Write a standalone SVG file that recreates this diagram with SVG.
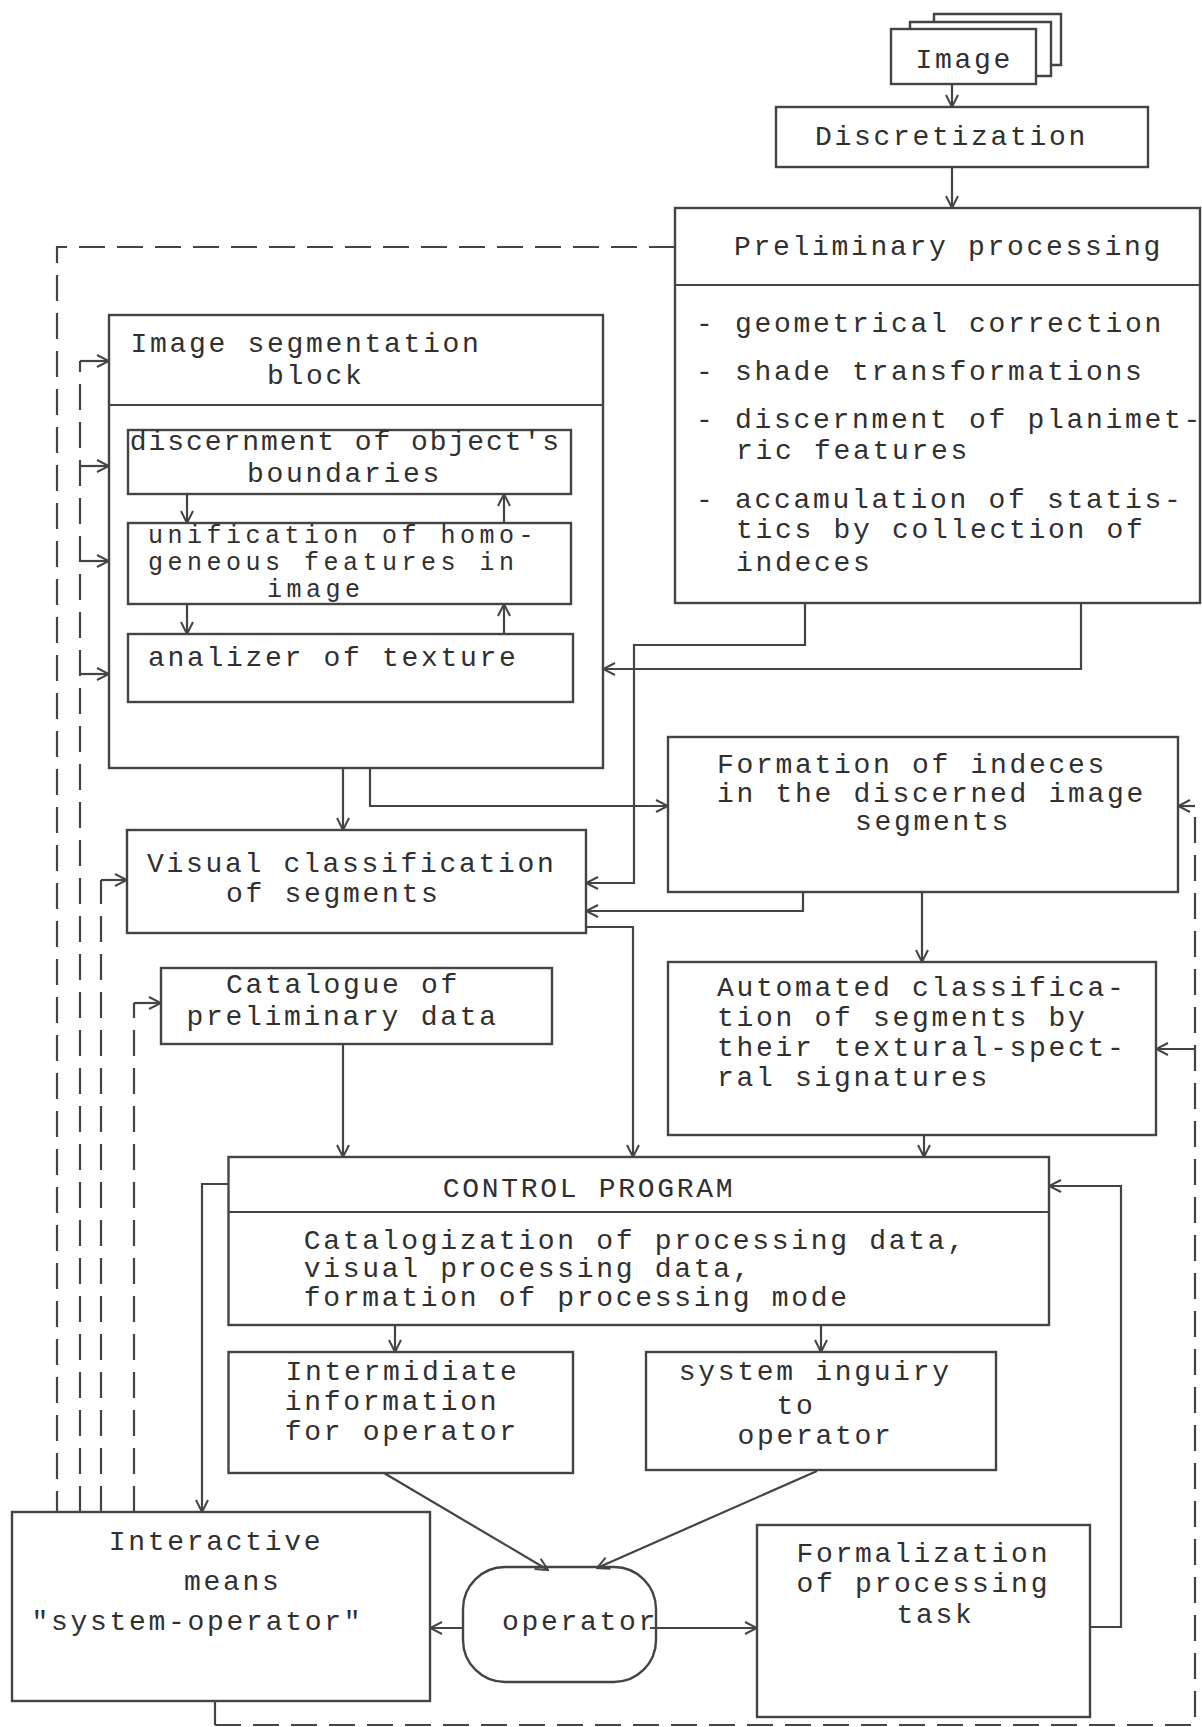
<svg xmlns="http://www.w3.org/2000/svg" width="1202" height="1727" viewBox="0 0 1202 1727">
<defs>
<style>
.box{fill:none;stroke:#444;stroke-width:2.4}
.ln{fill:none;stroke:#444;stroke-width:2.2}
.ar{fill:none;stroke:#444;stroke-width:2.2;marker-end:url(#ah)}
.dash{fill:none;stroke:#444;stroke-width:2.2;stroke-dasharray:26 12}
text{font-family:"Liberation Mono","DejaVu Sans Mono",monospace;font-size:28px;letter-spacing:2.7px;fill:#303030}
text.sm{font-size:25px;letter-spacing:4.5px}
</style>
<marker id="ah" viewBox="0 0 14 14" refX="13" refY="7" markerWidth="14" markerHeight="14" markerUnits="userSpaceOnUse" orient="auto">
<path d="M1,1 L13,7 L1,13" fill="none" stroke="#444" stroke-width="2"/>
</marker>
</defs>
<rect width="1202" height="1727" fill="#fff"/>

<g id="n-image">
<path class="box" d="M934,22 V14 H1061 V65 H1051"/>
<path class="box" d="M910,29 V22 H1051 V76 H1036"/>
<rect class="box" x="891" y="29" width="145" height="55"/>
<text x="915.6" y="68">Image</text>
</g>

<g id="n-discretization">
<rect class="box" x="776" y="107" width="372" height="60"/>
<text x="815" y="145">Discretization</text>
</g>

<g id="n-preliminary">
<rect class="box" x="675" y="208" width="525" height="395"/>
<line class="ln" x1="675" y1="285" x2="1200" y2="285"/>
<text x="734" y="255">Preliminary processing</text>
<text x="696" y="332">- geometrical correction</text>
<text x="696" y="380">- shade transformations</text>
<text x="696" y="428">- discernment of planimet-</text>
<text x="736" y="459">ric features</text>
<text x="696" y="508">- accamulation of statis-</text>
<text x="736" y="538">tics by collection of</text>
<text x="736" y="571">indeces</text>
</g>

<g id="n-segmentation">
<rect class="box" x="109" y="315" width="494" height="453"/>
<line class="ln" x1="109" y1="405" x2="603" y2="405"/>
<text x="130.5" y="352">Image segmentation</text>
<text x="267" y="384">block</text>
<g id="n-seg-boundaries">
<rect class="box" x="128" y="430" width="443" height="64"/>
<text x="129.7" y="450" textLength="432" lengthAdjust="spacing">discernment of object's</text>
<text x="247" y="482">boundaries</text>
</g>
<g id="n-seg-unification">
<rect class="box" x="128" y="523" width="443" height="81"/>
<text class="sm" x="148" y="543">unification of homo-</text>
<text class="sm" x="148" y="570">geneous features in</text>
<text class="sm" x="267" y="597">image</text>
</g>
<g id="n-seg-texture">
<rect class="box" x="128" y="634" width="445" height="68"/>
<text x="148" y="666">analizer of texture</text>
</g>
</g>

<g id="n-visual">
<rect class="box" x="127" y="830" width="459" height="103"/>
<text x="147" y="871.7">Visual classification</text>
<text x="226" y="901.7">of segments</text>
</g>

<g id="n-formation">
<rect class="box" x="668" y="737" width="510" height="155"/>
<text x="717" y="773.3">Formation of indeces</text>
<text x="717" y="801.7">in the discerned image</text>
<text x="855" y="830">segments</text>
</g>

<g id="n-catalogue">
<rect class="box" x="161" y="968" width="391" height="76"/>
<text x="226" y="993.3">Catalogue of</text>
<text x="186.6" y="1025">preliminary data</text>
</g>

<g id="n-automated">
<rect class="box" x="668" y="962" width="488" height="173"/>
<text x="717" y="996">Automated classifica-</text>
<text x="717" y="1026">tion of segments by</text>
<text x="717" y="1056">their textural-spect-</text>
<text x="717" y="1086">ral signatures</text>
</g>

<g id="n-control">
<rect class="box" x="228.5" y="1157" width="820.5" height="168"/>
<line class="ln" x1="228.5" y1="1212" x2="1049" y2="1212"/>
<text x="442.8" y="1197">CONTROL PROGRAM</text>
<text x="303.7" y="1249">Catalogization of processing data,</text>
<text x="303.7" y="1277">visual processing data,</text>
<text x="303.7" y="1306">formation of processing mode</text>
</g>

<g id="n-intermediate">
<rect class="box" x="228.5" y="1352" width="344.5" height="121"/>
<text x="285.5" y="1380">Intermidiate</text>
<text x="284.7" y="1410">information</text>
<text x="284.7" y="1440">for operator</text>
</g>

<g id="n-inquiry">
<rect class="box" x="646" y="1352" width="350" height="118"/>
<text x="678.7" y="1380">system inguiry</text>
<text x="776.6" y="1414">to</text>
<text x="737.4" y="1444.4">operator</text>
</g>

<g id="n-interactive">
<rect class="box" x="12" y="1512" width="418" height="189"/>
<text x="108.7" y="1550.4">Interactive</text>
<text x="183.9" y="1589.8">means</text>
<text x="31.6" y="1630.3">"system-operator"</text>
</g>

<g id="n-operator">
<rect class="box" x="463" y="1567" width="193" height="115" rx="42" ry="42"/>
<text x="502" y="1630">operator</text>
</g>

<g id="n-formalization">
<rect class="box" x="757" y="1525" width="333" height="192"/>
<text x="796.6" y="1561.5">Formalization</text>
<text x="796.6" y="1591.7">of processing</text>
<text x="896.4" y="1623">task</text>
</g>

<g id="connectors">
<path class="ar" d="M952,84 V107"/>
<path class="ar" d="M952,167 V208"/>
<path class="ar" d="M805,603 V645 H634 V883 H586"/>
<path class="ar" d="M1081,603 V669 H603"/>
<path class="ar" d="M343,768 V830"/>
<path class="ar" d="M370,768 V806 H668"/>
<path class="ar" d="M803,892 V911 H586"/>
<path class="ar" d="M922,892 V962"/>
<path class="ar" d="M586,927 H633 V1157"/>
<path class="ar" d="M343,1044 V1157"/>
<path class="ar" d="M924,1135 V1157"/>
<path class="ar" d="M1090,1627 H1121 V1186 H1049"/>
<path class="ar" d="M228.5,1184 H202 V1512"/>
<path class="ar" d="M395,1325 V1352"/>
<path class="ar" d="M821,1325 V1352"/>
<path class="ar" d="M384,1473 L548,1570"/>
<path class="ar" d="M817,1471 L597,1568"/>
<path class="ar" d="M463,1628 H430"/>
<path class="ar" d="M650,1628 H757"/>
<path class="ar" d="M187,494 V523"/>
<path class="ar" d="M504,523 V494"/>
<path class="ar" d="M187,604 V634"/>
<path class="ar" d="M504,634 V604"/>
<path class="dash" d="M675,247 H57 V1512"/>
<path class="dash" d="M80,1512 V361"/>
<path class="ar" d="M80,361 H109"/>
<path class="ar" d="M80,466 H109"/>
<path class="ar" d="M80,561 H109"/>
<path class="ar" d="M80,674 H109"/>
<path class="dash" d="M101,1512 V880"/>
<path class="ar" d="M101,880 H127"/>
<path class="dash" d="M134,1512 V1003"/>
<path class="ar" d="M134,1003 H161"/>
<path class="ln" d="M215,1701 V1725"/>
<path class="dash" d="M215,1725 H1195 V806"/>
<path class="ar" d="M1195,806 H1178"/>
<path class="ar" d="M1195,1049 H1156"/>
</g>
</svg>
